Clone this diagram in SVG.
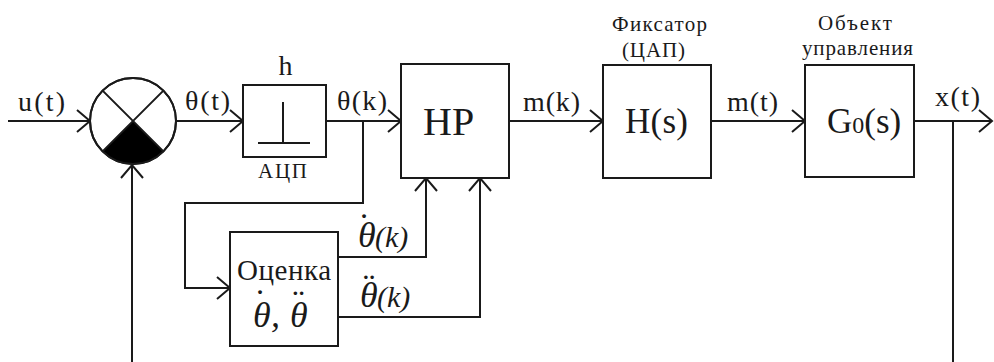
<svg xmlns="http://www.w3.org/2000/svg" width="994" height="362" viewBox="0 0 994 362">
<style>
.ln{fill:none;stroke:#1a1a1a;stroke-width:2}
.bx{fill:#fff;stroke:#1a1a1a;stroke-width:2}
.lb{font-family:"Liberation Serif",serif;font-size:28px;fill:#1a1a1a}
.cap{font-family:"Liberation Serif",serif;font-size:21px;fill:#1a1a1a}
.big{font-family:"Liberation Serif",serif;font-size:35px;fill:#1a1a1a}
.it{font-family:"Liberation Serif",serif;font-size:36px;font-style:italic;fill:#1a1a1a}
</style>
<defs>
<marker id="ar" markerUnits="userSpaceOnUse" orient="auto" overflow="visible" refX="0" refY="0" markerWidth="14" markerHeight="24">
<path d="M-13,-11 L0,0 L-13,11" fill="none" stroke="#1a1a1a" stroke-width="2"/>
</marker>
</defs>
<rect width="994" height="362" fill="#fff"/>
<g id="connectors">
<path class="ln" d="M8,121 H90" marker-end="url(#ar)"/>
<path class="ln" d="M176,121 H243" marker-end="url(#ar)"/>
<path class="ln" d="M326,121 H401" marker-end="url(#ar)"/>
<path class="ln" d="M509,121 H603" marker-end="url(#ar)"/>
<path class="ln" d="M711,121 H805" marker-end="url(#ar)"/>
<path class="ln" d="M914,121 H992" marker-end="url(#ar)"/>
<path class="ln" d="M953,121 V362"/>
<path class="ln" d="M132,362 V165" marker-end="url(#ar)"/>
<path class="ln" d="M363,121 V203 H185 V288 H230" marker-end="url(#ar)"/>
<path class="ln" d="M338,257 H426 V178" marker-end="url(#ar)"/>
<path class="ln" d="M338,317 H480 V178" marker-end="url(#ar)"/>
<text class="lb" x="18" y="111" textLength="47">u(t)</text>
<text class="lb" x="185" y="110" textLength="45">θ(t)</text>
<text class="lb" x="337" y="110" textLength="50">θ(k)</text>
<text class="lb" x="523" y="111" textLength="57">m(k)</text>
<text class="lb" x="727" y="111" textLength="51">m(t)</text>
<text class="lb" x="935" y="106" textLength="45">x(t)</text>
<text class="it" x="358" y="247"><tspan>θ</tspan><tspan x="358" dy="-9.5" font-style="normal">˙</tspan><tspan x="375" dy="9.5" style="font-size:30px">(k)</tspan></text>
<text class="it" x="360" y="307"><tspan>θ</tspan><tspan x="363" dy="-9" font-style="normal">¨</tspan><tspan x="377" dy="9" style="font-size:30px">(k)</tspan></text>
</g>
<g id="sum">
<circle class="bx" cx="133" cy="121" r="43"/>
<path d="M133,121 L163.4,151.4 A43,43 0 0 1 102.6,151.4 Z" fill="#000"/>
<path class="ln" d="M102.6,90.6 L163.4,151.4 M163.4,90.6 L102.6,151.4"/>
<circle cx="133" cy="121" r="43" fill="none" stroke="#1a1a1a" stroke-width="2"/>
</g>
<g id="adc">
<rect class="bx" x="243" y="85" width="83" height="72"/>
<path class="ln" d="M283,102 V143 M258,143 H310"/>
<text class="lb" x="285.5" y="75" text-anchor="middle">h</text>
<text class="cap" x="258" y="178" textLength="49">АЦП</text>
</g>
<g id="hp">
<rect class="bx" x="401" y="64" width="108" height="114"/>
<text class="big" x="423" y="135" style="font-size:40px">HP</text>
</g>
<g id="estimator">
<rect class="bx" x="230" y="232" width="108" height="114"/>
<text class="cap" x="237" y="280" style="font-size:29px" textLength="94">Оценка</text>
<text class="it" x="253" y="327"><tspan>θ</tspan><tspan x="254" dy="-13.5" font-style="normal">˙</tspan><tspan x="271" dy="13.5">,</tspan><tspan x="290">θ</tspan><tspan x="292.5" dy="-13" font-style="normal">¨</tspan></text>
</g>
<g id="hold">
<rect class="bx" x="603" y="65" width="108" height="113"/>
<text class="big" x="625" y="133" textLength="63">H(s)</text>
<text class="cap" x="612" y="31" textLength="95">Фиксатор</text>
<text class="cap" x="622" y="57" textLength="63">(ЦАП)</text>
</g>
<g id="plant">
<rect class="bx" x="805" y="65" width="109" height="112"/>
<text class="big" x="827" y="133">G<tspan style="font-size:24px">0</tspan>(s)</text>
<text class="cap" x="818" y="30" textLength="74">Объект</text>
<text class="cap" x="802" y="55" textLength="111">управления</text>
</g>
</svg>
